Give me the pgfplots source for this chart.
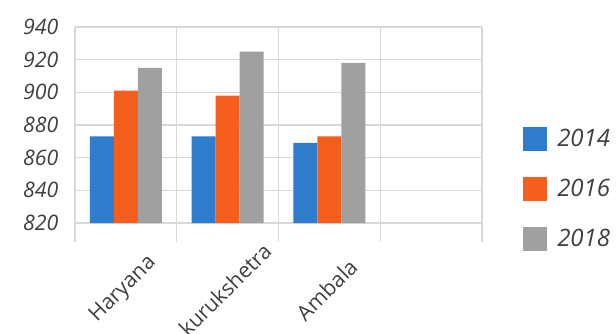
\documentclass[border=0pt]{standalone}
\usepackage{fontspec}
\setmainfont{Open Sans}
\usepackage{pgfplots}
\pgfplotsset{compat=1.18}
\definecolor{cblue}{RGB}{46,125,205}
\definecolor{corange}{RGB}{245,95,30}
\definecolor{cgray}{RGB}{160,160,160}
\definecolor{gridgray}{RGB}{217,217,217}
\pgfplotsset{sqlegend/.style={legend image code/.code={\fill[##1] (0pt,-9.35pt) rectangle (18pt,8.65pt);}}}
\begin{document}
\begin{tikzpicture}
\path[use as bounding box] (-56.25pt,-82.5pt) rectangle (405.75pt,167.25pt);
\begin{axis}[
  at={(0pt,0pt)}, anchor=south west,
  scale only axis, width=305.25pt, height=147pt,
  xmin=-0.5, xmax=3.5, ymin=820, ymax=940,
  ybar=0pt, bar width=18pt,
  ytick={820,840,...,940},
  xtick={0,1,2}, xticklabels={Haryana,kurukshetra,Ambala},
  minor xtick={-0.5,0.5,1.5,2.5,3.5},
  xminorgrids, ymajorgrids,
  grid style={draw=gridgray, line width=1pt},
  minor grid style={draw=gridgray, line width=1pt},
  axis line style={draw=none},
  tick align=outside, xtick pos=lower, ytick pos=left,
  major tick length=0pt, minor tick length=14pt,
  every minor tick/.append style={draw=gridgray, line width=1pt},
  /pgf/number format/assume math mode=true,
  yticklabel style={font=\fontsize{16}{19}\selectfont\itshape, text=black!75, anchor=east, xshift=-9pt},
  xticklabel style={font=\fontsize{16}{19}\selectfont, text=black!75, yshift=-50pt, xshift=-2pt, rotate=45, anchor=center},
  legend style={draw=none, fill=none, at={(rel axis cs:1,1)}, anchor=north west,
    xshift=30.75pt, yshift=-75pt, inner sep=0pt, row sep=19.5pt,
    font=\fontsize{18}{21}\selectfont\itshape, text=black!75,
    nodes={inner sep=0pt},
    /tikz/every odd column/.style={column sep=7.5pt}},
  legend cell align=left,
]
\addplot[fill=cblue, draw=none, sqlegend] coordinates {(0,873) (1,873) (2,869)};
\addplot[fill=corange, draw=none, sqlegend] coordinates {(0,901) (1,898) (2,873)};
\addplot[fill=cgray, draw=none, sqlegend] coordinates {(0,915) (1,925) (2,918)};
\legend{2014,2016,2018}
\end{axis}
\end{tikzpicture}
\end{document}
